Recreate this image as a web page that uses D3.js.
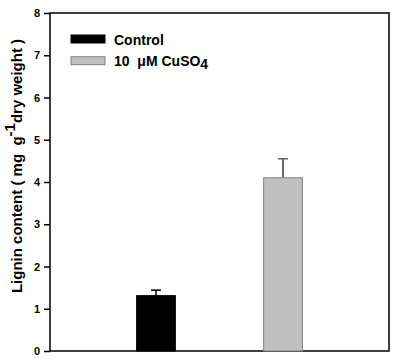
<!DOCTYPE html>
<html><head><meta charset="utf-8">
<script src="https://cdn.jsdelivr.net/npm/d3@7"></script>
<style>body{margin:0;background:#fff}svg{display:block}text{font-family:"Liberation Sans",Arial,sans-serif;font-weight:bold;white-space:pre}</style>
</head><body>
<script>
const categories = ["Control", "10 μM CuSO4"];
const values = [1.31, 4.10];
const errors = [0.13, 0.45];
const yTicks = [0,1,2,3,4,5,6,7,8];

const W = 393, H = 361;
const m = {l:50, r:4, t:13, b:10};
const svg = d3.select("body").append("svg").attr("width", W).attr("height", H);

const x = d3.scaleBand().domain(categories).range([m.l, W - m.r]).paddingInner(0.695).paddingOuter(0.682);
const y = d3.scaleLinear().domain([0, 8]).range([H - m.b, m.t]);

const fills = ["#000000", "#c0c0c0"];
const strokes = ["#000000", "#808080"];
const errCol = ["#000000", "#333333"];

// frame
svg.append("rect").attr("x", m.l).attr("y", m.t).attr("width", W - m.r - m.l).attr("height", H - m.b - m.t)
  .attr("fill", "none").attr("stroke", "#000").attr("stroke-width", 1.5);

// bars
categories.forEach((c, i) => {
  const cx = x(c) + x.bandwidth() / 2;
  svg.append("line").attr("x1", cx).attr("x2", cx).attr("y1", y(values[i])).attr("y2", y(values[i] + errors[i]))
    .attr("stroke", errCol[i]).attr("stroke-width", 1.5);
  svg.append("line").attr("x1", cx - 5).attr("x2", cx + 5).attr("y1", y(values[i] + errors[i])).attr("y2", y(values[i] + errors[i]))
    .attr("stroke", i ? "#666" : "#000").attr("stroke-width", 1.5);
  svg.append("rect").attr("x", x(c)).attr("y", y(values[i])).attr("width", x.bandwidth()).attr("height", y(0) - y(values[i]))
    .attr("fill", fills[i]).attr("stroke", strokes[i]).attr("stroke-width", 1);
});

// y axis
const ax = svg.append("g").attr("transform", `translate(${m.l},0)`)
  .call(d3.axisLeft(y).tickValues(yTicks).tickFormat(d3.format("d")).tickSize(6).tickPadding(4));
ax.select(".domain").remove();
ax.selectAll(".tick line").attr("stroke", "#000").attr("stroke-width", 1.5);
ax.selectAll(".tick text").attr("font-size", 11).attr("font-weight", "bold").attr("fill", "#000")
  .attr("font-family", "Liberation Sans, Arial, sans-serif");

// y label
const yl = svg.append("text").attr("transform", `translate(22,166) rotate(-90)`)
  .attr("text-anchor", "middle").attr("font-size", 15).attr("fill", "#000");
yl.append("tspan").text("Lignin content ( mg  g");
yl.append("tspan").attr("dy", -7).attr("font-size", 15).text("-1");
yl.append("tspan").attr("dy", 7).text("dry weight )");

// legend
const lg = svg.append("g");
[0, 1].forEach(i => {
  const yy = 35 + i * 21.7;
  lg.append("rect").attr("x", 71).attr("y", yy).attr("width", 34).attr("height", 8)
    .attr("fill", fills[i]).attr("stroke", strokes[i]).attr("stroke-width", 1);
});
lg.append("text").attr("x", 114).attr("y", 44.5).attr("font-size", 14).attr("fill", "#000").text("Control");
const t2 = lg.append("text").attr("x", 114).attr("y", 66).attr("font-size", 14).attr("fill", "#000");
t2.append("tspan").text("10  μM CuSO");
t2.append("tspan").attr("dy", 3).attr("font-size", 14).text("4");
</script>
</body></html>
